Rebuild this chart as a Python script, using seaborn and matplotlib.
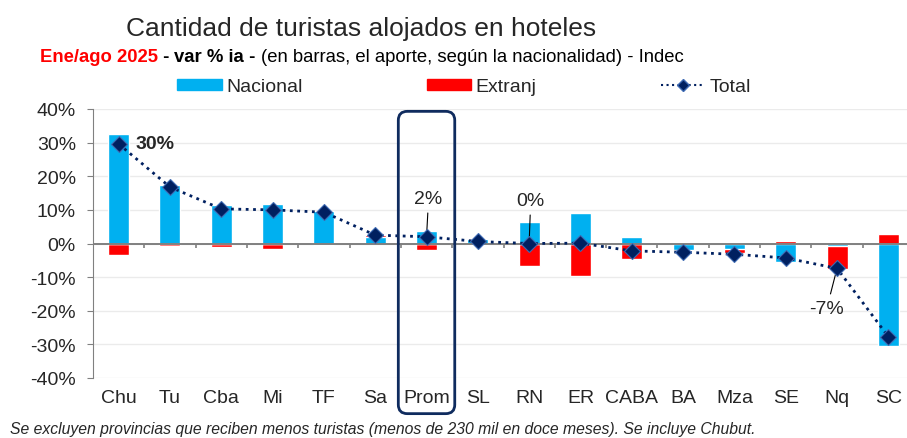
import seaborn as sns
import matplotlib.pyplot as plt
from matplotlib.patches import Patch, FancyBboxPatch
from matplotlib.lines import Line2D
from matplotlib.ticker import FuncFormatter

# Datos (var % ia, ene/ago 2025)
provincias = ['Chu', 'Tu', 'Cba', 'Mi', 'TF', 'Sa', 'Prom', 'SL', 'RN', 'ER',
              'CABA', 'BA', 'Mza', 'SE', 'Nq', 'SC']
nacional = [32.5, 17.4, 11.4, 11.7, 9.8, 1.8, 3.8, 1.2, 6.5, 9.1,
            1.8, -2.0, -1.5, -5.6, -0.7, -30.4]
extranj = [-3.3, -0.6, -1.1, -1.7, -0.5, 0.7, -1.8, -0.4, -6.6, -9.6,
           -4.5, -0.3, -1.4, 0.7, -6.9, 2.7]
total = [29.6, 16.8, 10.3, 10.0, 9.3, 2.5, 2.0, 0.6, 0.0, 0.1,
         -2.2, -2.6, -3.2, -4.3, -7.4, -27.7]

AZUL = '#00B0F0'
ROJO = '#FF0000'
NAVY = '#002060'

sns.set_style('white')
plt.rcParams['font.family'] = ['Liberation Sans', 'DejaVu Sans']

fig = plt.figure(figsize=(9.07, 4.39), dpi=100)
ax = fig.add_axes([93 / 907, 60 / 439, 821 / 907, 269 / 439])

# barras apiladas: el rojo llega hasta el acumulado cuando tiene el mismo signo
rojo_alto = [e + n if (e > 0) == (n > 0) else e for n, e in zip(nacional, extranj)]
sns.barplot(x=provincias, y=rojo_alto, order=provincias, color=ROJO,
            saturation=1, width=0.41, ax=ax, zorder=2)
sns.barplot(x=provincias, y=nacional, order=provincias, color=AZUL,
            saturation=1, width=0.41, ax=ax, zorder=2)

ax.axhline(0, color='#808080', lw=1.4, zorder=3)
ax.vlines([i + 0.5 for i in range(len(provincias) - 1)], 0, -1.3,
          color='#808080', lw=1.2, zorder=3)

sns.pointplot(x=provincias, y=total, order=provincias, color=NAVY,
              markers='D', linestyles=':', errorbar=None, ax=ax,
              markersize=8, markeredgecolor='#3E6AB3', markeredgewidth=0.8,
              linewidth=2, zorder=5)

ax.set_xlim(-0.5, len(provincias) - 0.5)
ax.set_ylim(-40, 40)
ax.set_yticks(range(-40, 41, 10))
ax.yaxis.set_major_formatter(FuncFormatter(lambda v, p: f'{v:.0f}%'))
ax.set_xlabel('')
ax.set_ylabel('')
ax.grid(axis='y', color='#EBEBEB', lw=1)
ax.set_axisbelow(True)
for s in ['top', 'right', 'bottom']:
    ax.spines[s].set_visible(False)
ax.spines['left'].set_color('#808080')
ax.tick_params(axis='y', length=4.3, color='#808080', pad=8, labelsize=14, left=True)
ax.tick_params(axis='x', length=0, pad=8, labelsize=14)

# etiquetas de datos
ax.text(0.33, total[0], f'{total[0]:.0f}%', fontsize=14, fontweight='bold',
        ha='left', va='center')
ax.annotate(f'{total[6]:.0f}%', xy=(6, total[6]), xytext=(6.04, 13.4),
            fontsize=14, ha='center', va='center',
            arrowprops=dict(arrowstyle='-', color='black', lw=0.8, shrinkA=2, shrinkB=0))
ax.annotate(f'{total[8]:.0f}%', xy=(8, total[8]), xytext=(8.03, 12.8),
            fontsize=14, ha='center', va='center',
            arrowprops=dict(arrowstyle='-', color='black', lw=0.8, shrinkA=2, shrinkB=0))
ax.annotate('-7%', xy=(14, total[14]), xytext=(13.8, -19.3),
            fontsize=14, ha='center', va='center',
            arrowprops=dict(arrowstyle='-', color='black', lw=0.8, shrinkA=2, shrinkB=0))

# recuadro redondeado alrededor de "Prom"
x0, y0 = ax.transData.transform((6 - 0.55, -50.6)) / fig.dpi
x1, y1 = ax.transData.transform((6 + 0.55, 39.3)) / fig.dpi
caja = FancyBboxPatch((x0, y0), x1 - x0, y1 - y0,
                      boxstyle='round,pad=0,rounding_size=0.09',
                      transform=fig.dpi_scale_trans, fill=False,
                      edgecolor='#0F2B5E', lw=2, clip_on=False, zorder=6)
fig.patches.append(caja)

# titulos
fig.text(361 / 907, (439 - 36) / 439, 'Cantidad de turistas alojados en hoteles',
         fontsize=19, ha='center', va='baseline')
partes = [('Ene/ago 2025', ROJO, 'bold'), (' - ', 'black', 'bold'),
          ('var % ia', 'black', 'bold'), (' - ', 'black', 'bold'),
          ('(en barras, el aporte, según la nacionalidad) - Indec', 'black', 'normal')]
prev = fig.text(40 / 907, (439 - 62) / 439, partes[0][0], color=partes[0][1],
                fontweight=partes[0][2], fontsize=13.3, va='baseline')
for txt, col, peso in partes[1:]:
    prev = ax.annotate(txt, xy=(1, 0), xycoords=prev, color=col, fontweight=peso,
                       fontsize=13.3, va='bottom', ha='left', annotation_clip=False)

handles = [Patch(color=AZUL, label='Nacional'),
           Patch(color=ROJO, label='Extranj'),
           Line2D([], [], color=NAVY, ls=':', lw=1.5, marker='D', markersize=6,
                  markeredgecolor='#3E6AB3', label='Total')]
fig.legend(handles=handles, loc='center', bbox_to_anchor=(464 / 907, (439 - 88) / 439),
           ncol=3, frameon=False, fontsize=14, handlelength=2.3, handleheight=0.55,
           handletextpad=0.2, columnspacing=6.4, borderpad=0)

fig.text(10 / 907, 9 / 439,
         'Se excluyen provincias que reciben menos turistas (menos de 230 mil en doce meses). Se incluye Chubut.',
         fontsize=11.3, style='italic', va='center', ha='left')

fig.savefig('out.png', dpi=100)
